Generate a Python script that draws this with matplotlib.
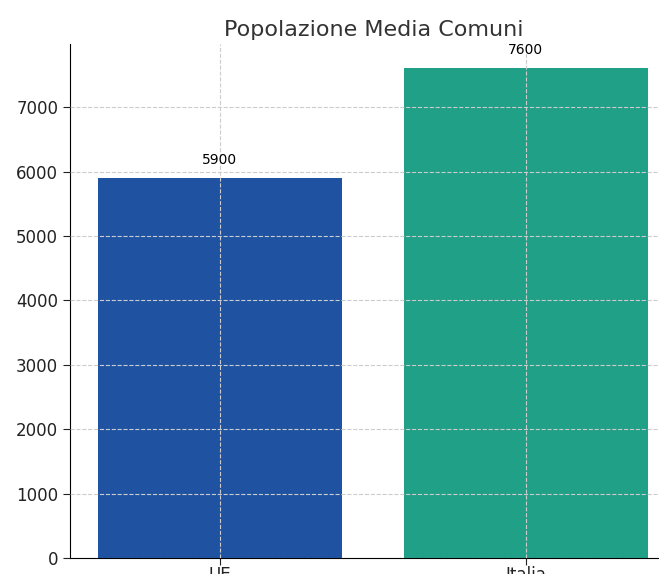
import matplotlib
matplotlib.use('Agg')
from matplotlib import pyplot as plt

# Data
categories = ['UE', 'Italia']
values = [5900, 7600]
colors = ['#1f53a2', '#21a088']

fig = plt.figure(figsize=(6.59, 5.74), dpi=100)
# axes runs to the right edge (reference is a cropped picture)
ax = fig.add_axes([70 / 659, 16 / 574, 589 / 659, 514 / 574])

bars = ax.bar(categories, values, color=colors, width=0.8, zorder=2)
for b, v in zip(bars, values):
    ax.annotate(f'{v}', (b.get_x() + b.get_width() / 2, v), xytext=(0, 8),
                textcoords='offset points', ha='center', va='bottom', fontsize=10)

ax.set_xlim(-0.49, 1.435)
ax.set_ylim(0, 7980)
ax.set_title('Popolazione Media Comuni', fontsize=16, color='#333333', x=0.515, pad=6)
ax.grid(True, linestyle='--', color='#cccccc', linewidth=0.8, zorder=0)
ax.set_axisbelow(False)
for s in ['top', 'right']:
    ax.spines[s].set_visible(False)
ax.tick_params(axis='both', labelsize=12, length=5, colors='#222222')
ax.tick_params(axis='x', pad=1)

fig.savefig('out.png', dpi=100)
